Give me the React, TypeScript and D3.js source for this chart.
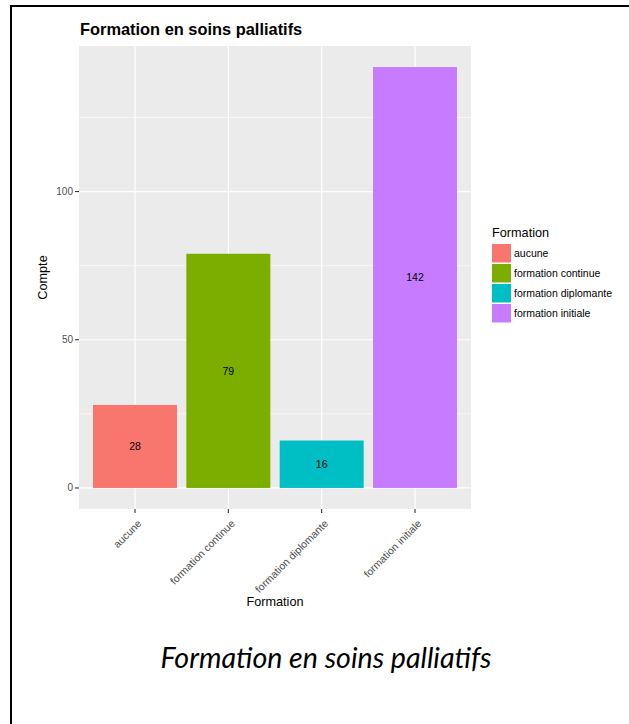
import { useRef, useEffect } from 'react';
import * as d3 from 'd3';

const categories = ['aucune', 'formation continue', 'formation diplomante', 'formation initiale'];
const counts = [28, 79, 16, 142];
const colors = ['#F8766D', '#7CAE00', '#00BFC4', '#C77CFF'];
const majorTicks = [0, 50, 100];
const minorTicks = [25, 75, 125];

const WIDTH = 629;
const HEIGHT = 724;
const PANEL = { left: 79, right: 471, top: 46, bottom: 509 };
const FONT = '"Liberation Sans", Arial, Helvetica, sans-serif';

export default function App() {
  const svgRef = useRef<SVGSVGElement>(null);

  useEffect(() => {
    const svg = svgRef.current;
    if (!svg) return;
    d3.select(svg).selectAll('*').remove();
    const root = d3.select(svg);

    // frame lines (top and left)
    root.append('line').attr('x1', 10).attr('x2', WIDTH).attr('y1', 6).attr('y2', 6)
      .attr('stroke', '#000').attr('stroke-width', 2);
    root.append('line').attr('x1', 11).attr('x2', 11).attr('y1', 5).attr('y2', HEIGHT)
      .attr('stroke', '#000').attr('stroke-width', 2);

    const maxCount = d3.max(counts) ?? 1;
    const pad = maxCount * 0.05;
    const y = d3.scaleLinear().domain([-pad, maxCount + pad]).range([PANEL.bottom, PANEL.top]);
    // ggplot discrete expansion: 0.6 units each side, bar width 0.9
    const x = d3.scaleBand<string>().domain(categories)
      .range([PANEL.left, PANEL.right]).paddingInner(0.1).paddingOuter(0.15);
    const center = (c: string) => (x(c) ?? 0) + x.bandwidth() / 2;

    // panel
    root.append('rect')
      .attr('x', PANEL.left).attr('y', PANEL.top)
      .attr('width', PANEL.right - PANEL.left).attr('height', PANEL.bottom - PANEL.top)
      .attr('fill', '#EBEBEB');

    const grid = root.append('g').attr('stroke', '#fff');
    grid.selectAll('.minor').data(minorTicks).enter().append('line')
      .attr('x1', PANEL.left).attr('x2', PANEL.right)
      .attr('y1', (d) => y(d)).attr('y2', (d) => y(d)).attr('stroke-width', 0.6);
    grid.selectAll('.major').data(majorTicks).enter().append('line')
      .attr('x1', PANEL.left).attr('x2', PANEL.right)
      .attr('y1', (d) => y(d)).attr('y2', (d) => y(d)).attr('stroke-width', 1.2);
    grid.selectAll('.xmajor').data(categories).enter().append('line')
      .attr('x1', (d) => center(d)).attr('x2', (d) => center(d))
      .attr('y1', PANEL.top).attr('y2', PANEL.bottom).attr('stroke-width', 1.2);

    // bars
    root.selectAll('.bar').data(categories).enter().append('rect')
      .attr('x', (d) => x(d) ?? 0)
      .attr('y', (_d, i) => y(counts[i]))
      .attr('width', x.bandwidth())
      .attr('height', (_d, i) => y(0) - y(counts[i]))
      .attr('fill', (_d, i) => colors[i]);

    root.selectAll('.bar-label').data(categories).enter().append('text')
      .attr('x', (d) => center(d))
      .attr('y', (_d, i) => y(counts[i] / 2))
      .attr('dy', '0.35em')
      .attr('text-anchor', 'middle')
      .attr('font-family', FONT).attr('font-size', 10.5).attr('fill', '#000')
      .text((_d, i) => counts[i]);

    // y axis
    const yAxis = root.append('g');
    yAxis.selectAll('line').data(majorTicks).enter().append('line')
      .attr('x1', PANEL.left - 4).attr('x2', PANEL.left)
      .attr('y1', (d) => y(d)).attr('y2', (d) => y(d))
      .attr('stroke', '#333').attr('stroke-width', 1.1);
    yAxis.selectAll('text').data(majorTicks).enter().append('text')
      .attr('x', PANEL.left - 6).attr('y', (d) => y(d)).attr('dy', '0.35em')
      .attr('text-anchor', 'end').attr('font-family', FONT).attr('font-size', 10)
      .attr('fill', '#4D4D4D').text((d) => d);

    // x axis
    const xAxis = root.append('g');
    xAxis.selectAll('line').data(categories).enter().append('line')
      .attr('x1', (d) => center(d)).attr('x2', (d) => center(d))
      .attr('y1', PANEL.bottom).attr('y2', PANEL.bottom + 4)
      .attr('stroke', '#333').attr('stroke-width', 1.1);
    xAxis.selectAll('text').data(categories).enter().append('text')
      .attr('transform', (d) => `translate(${center(d) + 2},${PANEL.bottom + 10}) rotate(-45)`)
      .attr('text-anchor', 'end').attr('dy', '0.7em')
      .attr('font-family', FONT).attr('font-size', 10.5)
      .attr('fill', '#4D4D4D').text((d) => d);

    // axis titles
    root.append('text')
      .attr('x', (PANEL.left + PANEL.right) / 2).attr('y', 606)
      .attr('text-anchor', 'middle').attr('font-family', FONT).attr('font-size', 12.7)
      .attr('fill', '#000').text('Formation');
    root.append('text')
      .attr('transform', `translate(47,${(PANEL.top + PANEL.bottom) / 2}) rotate(-90)`)
      .attr('text-anchor', 'middle').attr('font-family', FONT).attr('font-size', 12.7)
      .attr('fill', '#000').text('Compte');

    // title
    root.append('text')
      .attr('x', PANEL.left + 1).attr('y', 35)
      .attr('font-family', FONT).attr('font-size', 16.4).attr('font-weight', 'bold')
      .attr('fill', '#000').text('Formation en soins palliatifs');

    // legend
    const legend = root.append('g').attr('transform', 'translate(492,0)');
    legend.append('text').attr('x', 0).attr('y', 237)
      .attr('font-family', FONT).attr('font-size', 12.7).attr('fill', '#000')
      .text('Formation');
    const items = legend.selectAll('.item').data(categories).enter().append('g')
      .attr('transform', (_d, i) => `translate(0,${244 + i * 20})`);
    items.append('rect').attr('width', 19).attr('height', 18.5)
      .attr('fill', (_d, i) => colors[i]);
    items.append('text').attr('x', 22).attr('y', 9.5).attr('dy', '0.35em')
      .attr('font-family', FONT).attr('font-size', 10.5).attr('fill', '#000')
      .text((d) => d);

    // caption
    root.append('text')
      .attr('x', 326).attr('y', 668)
      .attr('text-anchor', 'middle')
      .attr('font-family', 'Lato, "Open Sans", sans-serif').attr('font-style', 'italic')
      .attr('font-size', 28.6).attr('fill', '#000')
      .text('Formation en soins palliatifs');
  }, []);

  return (
    <div style={{ position: 'absolute', left: 0, top: 0 }}>
      <svg ref={svgRef} width={WIDTH} height={HEIGHT} style={{ display: 'block', background: '#fff' }} />
    </div>
  );
}
